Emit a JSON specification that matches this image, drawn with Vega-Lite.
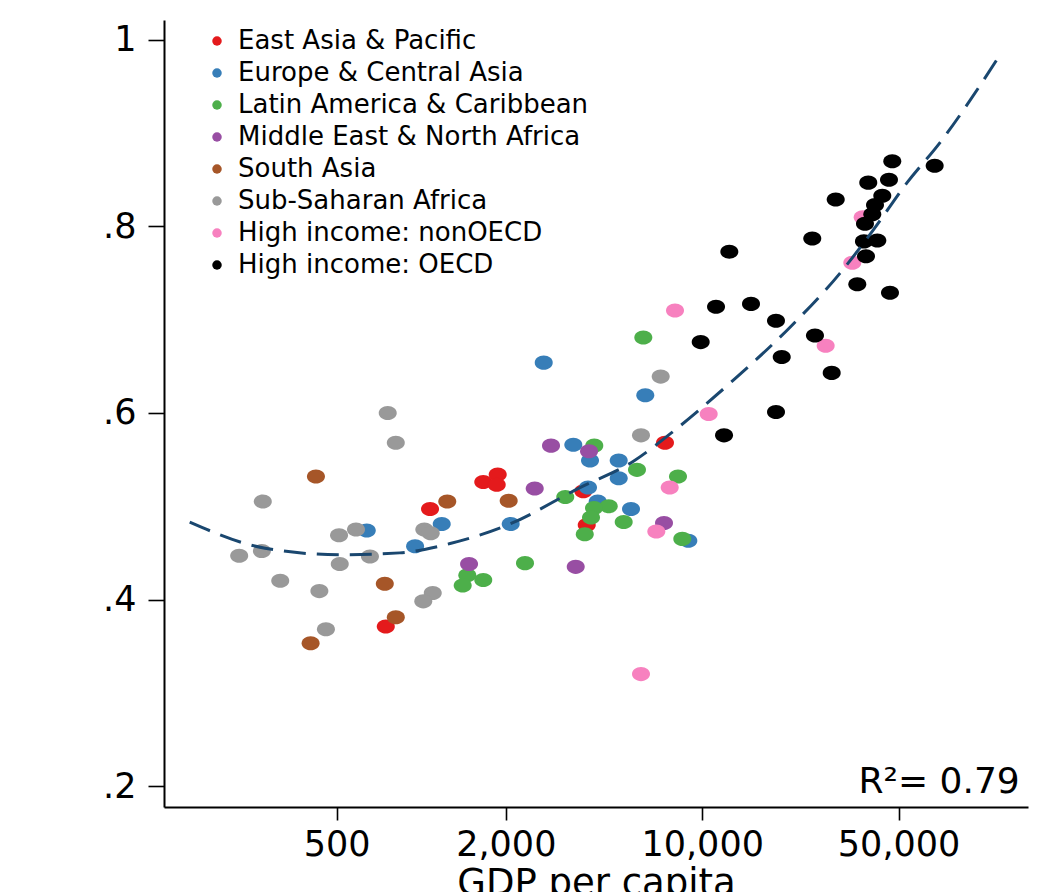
{
  "$schema": "https://vega.github.io/schema/vega-lite/v6.json",
  "autosize": "none",
  "padding": {"left": 164, "top": 20, "right": 28, "bottom": 85},
  "width": 864,
  "height": 787,
  "background": "white",
  "config": {
    "view": {"stroke": null},
    "font": "DejaVu Sans",
    "axis": {
      "grid": false,
      "domainColor": "black",
      "domainWidth": 2,
      "tickColor": "black",
      "tickWidth": 1.6,
      "labelColor": "black",
      "labelFont": "DejaVu Sans",
      "labelFontSize": 35,
      "titleFont": "DejaVu Sans",
      "titleFontWeight": "normal",
      "titleColor": "black"
    }
  },
  "datasets": {
    "points": [
      {"region": "East Asia & Pacific", "gdp": 1075, "v": 0.497},
      {"region": "East Asia & Pacific", "gdp": 748, "v": 0.371},
      {"region": "East Asia & Pacific", "gdp": 1663, "v": 0.526},
      {"region": "East Asia & Pacific", "gdp": 1872, "v": 0.534},
      {"region": "East Asia & Pacific", "gdp": 1857, "v": 0.523},
      {"region": "East Asia & Pacific", "gdp": 3776, "v": 0.516},
      {"region": "East Asia & Pacific", "gdp": 3882, "v": 0.480},
      {"region": "East Asia & Pacific", "gdp": 7372, "v": 0.568},
      {"region": "Europe & Central Asia", "gdp": 640, "v": 0.474},
      {"region": "Europe & Central Asia", "gdp": 1183, "v": 0.481},
      {"region": "Europe & Central Asia", "gdp": 951, "v": 0.457},
      {"region": "Europe & Central Asia", "gdp": 2729, "v": 0.654},
      {"region": "Europe & Central Asia", "gdp": 6273, "v": 0.619},
      {"region": "Europe & Central Asia", "gdp": 3478, "v": 0.566},
      {"region": "Europe & Central Asia", "gdp": 3988, "v": 0.549},
      {"region": "Europe & Central Asia", "gdp": 5045, "v": 0.549},
      {"region": "Europe & Central Asia", "gdp": 5045, "v": 0.530},
      {"region": "Europe & Central Asia", "gdp": 3923, "v": 0.520},
      {"region": "Europe & Central Asia", "gdp": 4248, "v": 0.505},
      {"region": "Europe & Central Asia", "gdp": 5580, "v": 0.497},
      {"region": "Europe & Central Asia", "gdp": 8926, "v": 0.463},
      {"region": "Europe & Central Asia", "gdp": 2082, "v": 0.481},
      {"region": "Latin America & Caribbean", "gdp": 6172, "v": 0.681},
      {"region": "Latin America & Caribbean", "gdp": 4130, "v": 0.565},
      {"region": "Latin America & Caribbean", "gdp": 5861, "v": 0.539},
      {"region": "Latin America & Caribbean", "gdp": 8201, "v": 0.532},
      {"region": "Latin America & Caribbean", "gdp": 3256, "v": 0.510},
      {"region": "Latin America & Caribbean", "gdp": 4649, "v": 0.500},
      {"region": "Latin America & Caribbean", "gdp": 4121, "v": 0.498},
      {"region": "Latin America & Caribbean", "gdp": 4021, "v": 0.488},
      {"region": "Latin America & Caribbean", "gdp": 3820, "v": 0.470},
      {"region": "Latin America & Caribbean", "gdp": 5256, "v": 0.483},
      {"region": "Latin America & Caribbean", "gdp": 8496, "v": 0.465},
      {"region": "Latin America & Caribbean", "gdp": 1459, "v": 0.426},
      {"region": "Latin America & Caribbean", "gdp": 1405, "v": 0.415},
      {"region": "Latin America & Caribbean", "gdp": 1663, "v": 0.421},
      {"region": "Latin America & Caribbean", "gdp": 2341, "v": 0.439},
      {"region": "Middle East & North Africa", "gdp": 2897, "v": 0.565},
      {"region": "Middle East & North Africa", "gdp": 3956, "v": 0.559},
      {"region": "Middle East & North Africa", "gdp": 2535, "v": 0.519},
      {"region": "Middle East & North Africa", "gdp": 7313, "v": 0.482},
      {"region": "Middle East & North Africa", "gdp": 1480, "v": 0.438},
      {"region": "Middle East & North Africa", "gdp": 3547, "v": 0.435},
      {"region": "South Asia", "gdp": 422, "v": 0.532},
      {"region": "South Asia", "gdp": 1238, "v": 0.505},
      {"region": "South Asia", "gdp": 742, "v": 0.417},
      {"region": "South Asia", "gdp": 812, "v": 0.381},
      {"region": "South Asia", "gdp": 404, "v": 0.353},
      {"region": "South Asia", "gdp": 2048, "v": 0.506},
      {"region": "Sub-Saharan Africa", "gdp": 760, "v": 0.600},
      {"region": "Sub-Saharan Africa", "gdp": 812, "v": 0.568},
      {"region": "Sub-Saharan Africa", "gdp": 273, "v": 0.505},
      {"region": "Sub-Saharan Africa", "gdp": 225, "v": 0.447},
      {"region": "Sub-Saharan Africa", "gdp": 271, "v": 0.452},
      {"region": "Sub-Saharan Africa", "gdp": 315, "v": 0.420},
      {"region": "Sub-Saharan Africa", "gdp": 434, "v": 0.409},
      {"region": "Sub-Saharan Africa", "gdp": 458, "v": 0.368},
      {"region": "Sub-Saharan Africa", "gdp": 510, "v": 0.469},
      {"region": "Sub-Saharan Africa", "gdp": 513, "v": 0.438},
      {"region": "Sub-Saharan Africa", "gdp": 586, "v": 0.475},
      {"region": "Sub-Saharan Africa", "gdp": 657, "v": 0.446},
      {"region": "Sub-Saharan Africa", "gdp": 1026, "v": 0.475},
      {"region": "Sub-Saharan Africa", "gdp": 1081, "v": 0.471},
      {"region": "Sub-Saharan Africa", "gdp": 1099, "v": 0.407},
      {"region": "Sub-Saharan Africa", "gdp": 1017, "v": 0.398},
      {"region": "Sub-Saharan Africa", "gdp": 7117, "v": 0.639},
      {"region": "Sub-Saharan Africa", "gdp": 6056, "v": 0.576},
      {"region": "High income: nonOECD", "gdp": 8002, "v": 0.710},
      {"region": "High income: nonOECD", "gdp": 10549, "v": 0.599},
      {"region": "High income: nonOECD", "gdp": 7663, "v": 0.520},
      {"region": "High income: nonOECD", "gdp": 6866, "v": 0.473},
      {"region": "High income: nonOECD", "gdp": 6056, "v": 0.320},
      {"region": "High income: nonOECD", "gdp": 27510, "v": 0.672},
      {"region": "High income: nonOECD", "gdp": 34220, "v": 0.761},
      {"region": "High income: nonOECD", "gdp": 37260, "v": 0.810},
      {"region": "High income: OECD", "gdp": 47480, "v": 0.870},
      {"region": "High income: OECD", "gdp": 67210, "v": 0.865},
      {"region": "High income: OECD", "gdp": 39000, "v": 0.847},
      {"region": "High income: OECD", "gdp": 46220, "v": 0.850},
      {"region": "High income: OECD", "gdp": 43750, "v": 0.833},
      {"region": "High income: OECD", "gdp": 29870, "v": 0.829},
      {"region": "High income: OECD", "gdp": 41210, "v": 0.823},
      {"region": "High income: OECD", "gdp": 40310, "v": 0.813},
      {"region": "High income: OECD", "gdp": 37960, "v": 0.803},
      {"region": "High income: OECD", "gdp": 24650, "v": 0.787},
      {"region": "High income: OECD", "gdp": 12490, "v": 0.773},
      {"region": "High income: OECD", "gdp": 37650, "v": 0.784},
      {"region": "High income: OECD", "gdp": 42000, "v": 0.785},
      {"region": "High income: OECD", "gdp": 38280, "v": 0.768},
      {"region": "High income: OECD", "gdp": 35650, "v": 0.738},
      {"region": "High income: OECD", "gdp": 46600, "v": 0.729},
      {"region": "High income: OECD", "gdp": 11200, "v": 0.714},
      {"region": "High income: OECD", "gdp": 14920, "v": 0.717},
      {"region": "High income: OECD", "gdp": 18310, "v": 0.699},
      {"region": "High income: OECD", "gdp": 9878, "v": 0.676},
      {"region": "High income: OECD", "gdp": 25200, "v": 0.683},
      {"region": "High income: OECD", "gdp": 19190, "v": 0.660},
      {"region": "High income: OECD", "gdp": 28900, "v": 0.643},
      {"region": "High income: OECD", "gdp": 18310, "v": 0.601},
      {"region": "High income: OECD", "gdp": 11960, "v": 0.576}
    ],
    "fit": [
      {"gdp": 150, "v": 0.483},
      {"gdp": 278, "v": 0.455},
      {"gdp": 514, "v": 0.448},
      {"gdp": 839, "v": 0.450},
      {"gdp": 1267, "v": 0.460},
      {"gdp": 2070, "v": 0.481},
      {"gdp": 3673, "v": 0.520},
      {"gdp": 5675, "v": 0.548},
      {"gdp": 7870, "v": 0.580},
      {"gdp": 12880, "v": 0.635},
      {"gdp": 20550, "v": 0.692},
      {"gdp": 30960, "v": 0.750},
      {"gdp": 40600, "v": 0.796},
      {"gdp": 53600, "v": 0.847},
      {"gdp": 70200, "v": 0.890},
      {"gdp": 114800, "v": 0.984}
    ],
    "note": [
      {"label": "R²= 0.79", "gdp": 135000, "v": 0.1925}
    ]
  },
  "layer": [
    {
      "data": {"name": "points"},
      "mark": {
        "type": "point",
        "filled": true,
        "opacity": 1,
        "strokeWidth": 0,
        "size": 324,
        "shape": "M -1 0 A 1 0.78 0 1 1 1 0 A 1 0.78 0 1 1 -1 0 Z"
      },
      "encoding": {
        "x": {
          "field": "gdp",
          "type": "quantitative",
          "scale": {"type": "log", "domain": [121.5, 144400], "nice": false, "zero": false},
          "axis": {
            "title": "GDP per capita",
            "titleFontSize": 37,
            "titlePadding": 3,
            "values": [500, 2000, 10000, 50000],
            "format": ",",
            "tickSize": 13,
            "labelPadding": 7,
            "labelFlush": false,
            "labelOverlap": false
          }
        },
        "y": {
          "field": "v",
          "type": "quantitative",
          "scale": {"domain": [0.1775, 1.0214], "nice": false, "zero": false},
          "axis": {
            "title": null,
            "values": [0.2, 0.4, 0.6, 0.8, 1],
            "labelExpr": "datum.value == 1 ? '1' : '.' + round(datum.value * 10)",
            "tickSize": 16,
            "labelPadding": 12,
            "labelFlush": false,
            "labelOverlap": false
          }
        },
        "color": {
          "field": "region",
          "type": "nominal",
          "scale": {
            "domain": ["East Asia & Pacific", "Europe & Central Asia", "Latin America & Caribbean", "Middle East & North Africa", "South Asia", "Sub-Saharan Africa", "High income: nonOECD", "High income: OECD"],
            "range": ["#e41a1c", "#377eb8", "#4daf4a", "#984ea3", "#a65628", "#999999", "#f781bf", "#000000"]
          },
          "legend": {
            "title": null,
            "orient": "none",
            "legendX": 40,
            "legendY": 8,
            "symbolType": "circle",
            "symbolSize": 90,
            "symbolStrokeWidth": 0,
            "labelFont": "DejaVu Sans",
            "labelFontSize": 26,
            "labelColor": "black",
            "labelOffset": 8,
            "rowPadding": 6,
            "labelLimit": 500
          }
        }
      }
    },
    {
      "data": {"name": "fit"},
      "mark": {
        "type": "line",
        "color": "#1a476f",
        "strokeWidth": 3,
        "strokeDash": [22, 11],
        "interpolate": "monotone"
      },
      "encoding": {
        "x": {"field": "gdp", "type": "quantitative"},
        "y": {"field": "v", "type": "quantitative"}
      }
    },
    {
      "data": {"name": "note"},
      "mark": {
        "type": "text",
        "align": "right",
        "baseline": "alphabetic",
        "fontSize": 36,
        "font": "DejaVu Sans",
        "color": "black"
      },
      "encoding": {
        "x": {"field": "gdp", "type": "quantitative"},
        "y": {"field": "v", "type": "quantitative"},
        "text": {"field": "label"}
      }
    }
  ]
}
